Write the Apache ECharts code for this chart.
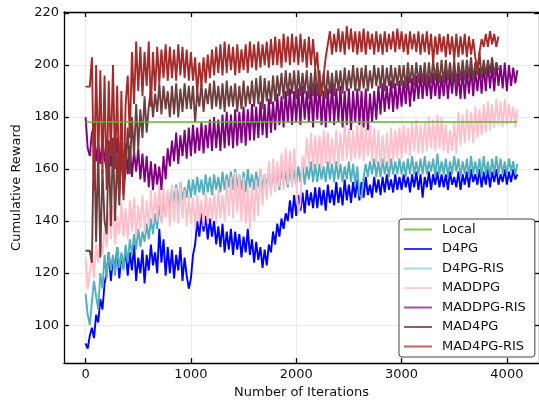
<!DOCTYPE html>
<html>
<head>
<meta charset="utf-8">
<script src="https://cdn.jsdelivr.net/npm/echarts@6/dist/echarts.min.js"></script>
<style>
  html, body { margin: 0; padding: 0; background: #fff; }
  #box1 { width: 539px; height: 404px; }
</style>
</head>
<body>
<div id="box1"></div>
<script>
// iterations, one sample every 20 steps (one row below = 200 iterations)
var iterations = Array.apply(null, Array(206)).map(function(item, i) {
  return i * 20;
});
var xTicks = [0, 1000, 2000, 3000, 4000];
var yTicks = [100, 120, 140, 160, 180, 200, 220];

var localIters = [0, 4100];
var local = [178.1, 178.1];

var d4pg = [
  93,91,96,99,95,104,101,110,106,116,
  120,128,117,126,121,130,118,127,122,129,
  119,128,121,131,117,126,120,129,116,127,
  121,131,123,128,120,137,124,133,119,130,
  120,129,118,127,121,130,117,126,119,114,
  118,127,131,140,134,143,136,142,133,141,
  134,140,131,138,130,139,128,136,129,137,
  127,136,129,135,126,134,128,137,127,133,
  124,132,125,130,122,129,123,131,128,136,
  131,139,134,141,137,143,140,148,141,150,
  142,150,144,151,143,152,146,151,145,153,
  145,153,146,152,144,154,147,152,146,155,
  147,153,146,156,148,154,147,155,149,156,
  148,155,149,157,150,154,149,157,151,156,
  150,157,151,158,152,156,151,158,152,157,
  152,158,153,157,151,158,153,159,152,158,
  149,157,153,159,152,158,154,159,153,158,
  153,158,152,159,154,157,153,159,152,158,
  154,159,153,160,155,158,154,160,153,159,
  154,160,153,159,155,160,154,158,155,160,
  154,159,155,160,156,158];

var d4pgRis = [
  112,104,100,109,117,111,106,120,114,127,
  118,128,121,127,119,130,122,128,121,131,
  124,133,127,135,129,137,130,136,132,139,
  133,141,135,143,137,146,140,148,142,150,
  145,153,147,154,146,155,148,153,149,156,
  149,156,150,157,151,156,150,158,151,157,
  150,158,152,157,151,159,152,158,153,159,
  152,160,153,158,152,159,151,160,153,158,
  152,159,153,160,152,158,153,160,152,159,
  153,159,152,160,154,159,153,161,154,160,
  154,161,155,162,154,161,156,163,155,162,
  155,162,156,161,155,163,156,162,155,163,
  156,162,155,161,156,163,155,162,154,161,
  150,149,157,162,157,163,158,164,157,163,
  157,164,158,163,157,164,158,163,158,164,
  158,163,157,164,158,165,158,163,158,164,
  158,165,158,163,159,164,157,166,158,163,
  158,164,157,163,158,165,159,164,157,163,
  158,164,157,165,158,163,158,164,157,165,
  158,163,157,164,158,165,158,164,158,163,
  158,164,159,163,158,162];

var maddpg = [
  126,114,120,128,118,131,124,134,127,137,
  130,144,133,146,131,142,135,147,134,145,
  133,148,136,149,134,146,137,150,136,148,
  138,152,139,151,140,154,139,153,141,152,
  138,154,140,153,139,155,141,152,138,150,
  139,149,137,150,140,148,138,151,139,149,
  140,151,139,152,141,150,140,156,142,157,
  141,159,143,158,140,157,139,153,137,155,
  140,156,142,160,146,158,148,163,150,164,
  151,163,153,166,152,168,154,167,153,168,
  155,143,147,165,160,172,161,174,160,173,
  161,173,160,175,162,174,161,172,162,175,
  161,174,163,177,164,176,163,175,164,177,
  164,178,163,176,165,177,163,176,162,175,
  161,173,162,174,161,176,163,175,164,176,
  164,177,166,176,165,178,167,179,166,177,
  166,178,167,180,168,179,167,181,168,180,
  167,177,166,175,167,178,166,182,169,181,
  170,183,171,182,170,184,172,183,173,185,
  174,186,175,185,176,187,177,186,176,187,
  177,185,178,184,176,183];

var maddpgRis = [
  180,168,165,174,176,163,170,162,172,164,
  160,171,161,170,162,172,160,169,161,170,
  158,169,157,167,159,168,156,166,155,165,
  153,163,152,162,154,161,152,165,156,168,
  161,171,163,174,162,173,165,175,164,176,
  165,177,166,176,167,178,166,177,168,179,
  167,180,168,179,167,181,168,182,169,181,
  168,183,169,182,170,184,169,183,171,185,
  171,184,172,186,173,185,172,187,174,186,
  175,189,177,188,176,190,178,191,177,190,
  178,191,177,192,179,190,178,192,176,193,
  179,192,177,190,176,191,178,193,177,191,
  178,192,176,190,177,191,175,190,178,191,
  177,190,176,191,175,189,178,190,179,192,
  181,193,182,192,183,194,182,193,183,194,
  184,194,185,196,184,195,186,196,187,197,
  187,197,188,196,187,197,188,197,187,196,
  188,198,187,197,189,198,188,197,187,198,
  187,198,189,199,188,198,190,199,189,200,
  190,201,191,200,190,201,192,200,191,201,
  190,200,192,199,193,198];

var mad4pg = [
  128.6,128.6,128.6,124,178,132,168,126,160,140,
  135,170,138,172,140,165,146,170,150,160,
  176,158,180,165,185,168,183,172,188,174,
  184,191,180,189,182,193,181,192,183,190,
  180,192,181,193,180,191,182,193,183,192,
  183,192,178,190,184,193,182,191,185,193,
  183,194,184,192,183,193,182,194,184,192,
  184,193,182,192,183,194,184,192,185,194,
  184,195,185,196,183,195,186,194,185,196,
  186,196,188,197,187,198,188,197,189,198,
  187,198,188,197,189,198,187,197,188,199,
  188,198,189,197,187,198,189,197,188,198,
  190,198,189,199,190,198,191,200,190,199,
  190,199,191,200,190,198,191,200,192,199,
  191,200,190,199,192,200,191,199,192,200,
  192,200,191,201,193,200,192,201,193,200,
  193,201,192,201,193,202,194,201,193,202,
  193,202,194,201,193,202,192,201,194,202,
  194,202,195,203,194,201,196,205,195,202,
  196,202,197,203,196,201,198];

var mad4pgRis = [
  191.7,191.7,191.7,203,152,200,162,198,158,196,
  152,194,165,200,160,192,150,190,148,185,
  196,172,205,185,209,190,207,188,205,192,
  209,184,205,190,207,193,206,195,208,194,
  207,195,206,194,208,196,207,195,206,194,
  205,194,203,189,201,192,203,193,204,195,
  206,196,207,197,208,196,209,197,208,198,
  207,196,208,197,206,198,208,197,209,199,
  208,198,209,199,208,200,209,199,210,200,
  211,200,210,199,212,201,211,200,212,201,
  211,200,212,201,210,199,211,200,210,199,
  205,189,188,196,203,208,213,204,212,205,
  214,205,213,204,215,206,214,205,213,204,
  213,205,214,204,213,206,212,204,213,205,
  212,204,213,205,212,206,213,205,214,206,
  213,205,212,204,213,206,212,205,213,204,
  212,205,213,204,212,201,211,204,212,205,
  211,203,212,204,211,202,212,203,211,204,
  212,203,211,204,210,203,198,205,210,207,
  212,207,213,208,212,207,211];

var font = 'DejaVu Sans';
var chart = echarts.init(document.getElementById('box1'));

function makeLine(name, xs, values, color, width) {
  return {
    name: name,
    type: 'line',
    data: values.map(function(v, i) { return [xs[i], v]; }),
    showSymbol: false,
    symbol: 'none',
    lineStyle: { color: color, width: width || 1.9 },
    itemStyle: { color: color },
    emphasis: { disabled: true },
    animation: false
  };
}

function frameAxis(pos, showLabel, isMain) {
  var ticks = (pos === 'bottom' || pos === 'top') ? xTicks : yTicks;
  return {
    type: 'value',
    position: pos,
    axisLine: { show: true, onZero: false, lineStyle: { color: '#000', width: 1.3 } },
    axisTick: { show: true, inside: true, length: 5, customValues: ticks,
      lineStyle: { color: '#000', width: 1.3 } },
    axisLabel: { show: showLabel, customValues: ticks, fontSize: 13, fontFamily: font,
      color: '#111', margin: 5,
      formatter: function(value) { return String(value); } },
    splitLine: { show: isMain, lineStyle: { color: '#ebebeb', width: 1 } }
  };
}

var xBottom = frameAxis('bottom', true, true);
xBottom.min = -205; xBottom.max = 4305;
xBottom.name = 'Number of Iterations';
xBottom.nameLocation = 'middle';
xBottom.nameGap = 22;
xBottom.nameTextStyle = { fontSize: 13, fontFamily: font, color: '#111' };
var xTop = frameAxis('top', false, false);
xTop.min = -205; xTop.max = 4305;

var yLeft = frameAxis('left', true, true);
yLeft.min = 85.4; yLeft.max = 220.4;
yLeft.name = 'Cumulative Reward';
yLeft.nameLocation = 'middle';
yLeft.nameGap = 36;
yLeft.nameTextStyle = { fontSize: 13, fontFamily: font, color: '#111' };
var yRight = frameAxis('right', false, false);
yRight.min = 85.4; yRight.max = 220.4;

var option = {
  backgroundColor: '#fff',
  animation: false,
  grid: { left: 64, top: 12, width: 476, height: 355 },
  xAxis: [xBottom, xTop],
  yAxis: [yLeft, yRight],
  legend: {
    orient: 'vertical',
    left: 399,
    top: 219,
    padding: [3, 9, 3, 5],
    itemWidth: 28,
    itemHeight: 2,
    itemGap: 4.5,
    icon: 'rect',
    selectedMode: false,
    backgroundColor: '#fff',
    borderColor: '#444',
    borderWidth: 1,
    borderRadius: 3,
    textStyle: { fontSize: 13, fontFamily: font, color: '#111', lineHeight: 15, padding: [0, 0, 0, 5] },
    data: [
      { name: 'Local', itemStyle: { color: '#7fcc4c' } },
      { name: 'D4PG', itemStyle: { color: '#3333ee' } },
      { name: 'D4PG-RIS', itemStyle: { color: '#a6d9e3' } },
      { name: 'MADDPG', itemStyle: { color: '#ffcfd8' } },
      { name: 'MADDPG-RIS', itemStyle: { color: '#a64da6' } },
      { name: 'MAD4PG', itemStyle: { color: '#8a6060' } },
      { name: 'MAD4PG-RIS', itemStyle: { color: '#c06060' } }
    ]
  },
  series: [
    makeLine('D4PG', iterations, d4pg, '#0000ff'),
    makeLine('D4PG-RIS', iterations, d4pgRis, '#52b0be'),
    makeLine('MADDPG', iterations, maddpg, '#ffc0cb'),
    makeLine('MADDPG-RIS', iterations, maddpgRis, '#800080'),
    makeLine('MAD4PG', iterations, mad4pg, '#6e3d3d'),
    makeLine('MAD4PG-RIS', iterations, mad4pgRis, '#a52a2a'),
    makeLine('Local', localIters, local, '#5cb82e', 1.3)
  ]
};
chart.setOption(option);
</script>
</body>
</html>
